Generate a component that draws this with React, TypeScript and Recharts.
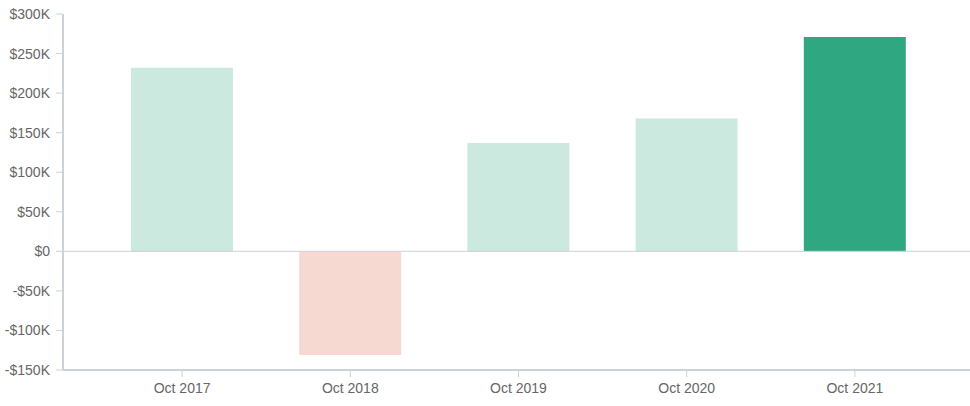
import React from 'react';
import { BarChart, Bar, XAxis, YAxis, ReferenceLine, Cell } from 'recharts';

const periods = ['Oct 2017', 'Oct 2018', 'Oct 2019', 'Oct 2020', 'Oct 2021'];
const amounts = [232000, -131000, 137000, 168000, 271000];
const yTicks = [-150000, -100000, -50000, 0, 50000, 100000, 150000, 200000, 250000, 300000];

const LIGHT_GREEN = '#cbe9df';
const PALE_RED = '#f6d9d1';
const DARK_GREEN = '#2fa882';
const AXIS_COLOR = '#cdd1d8';
const TEXT_COLOR = '#666';

const data = periods.map((period, i) => ({ period, amount: amounts[i] }));

const money = (v: number) => {
    if (v === 0) return '$0';
    const k = Math.abs(v) / 1000;
    return (v < 0 ? '-' : '') + '$' + k + 'K';
};

// negative years in red, latest year highlighted
const barColor = (v: number, i: number) => {
    if (v < 0) return PALE_RED;
    if (i === amounts.length - 1) return DARK_GREEN;
    return LIGHT_GREEN;
};

export default function App() {
    return (
        <div style={{ position: 'absolute', left: 12, top: 0, fontFamily: '"Liberation Sans", Arial, sans-serif' }}>
            {/* let the long y labels run past the svg edge instead of being clipped */}
            <style>{'.recharts-surface { overflow: visible; }'}</style>
            <BarChart
                width={958}
                height={406}
                data={data}
                margin={{ top: 14, right: 0, bottom: 6, left: 0 }}
            >
                <XAxis
                    dataKey="period"
                    padding={{ left: 35, right: 31 }}
                    height={30}
                    stroke={AXIS_COLOR}
                    axisLine={{ stroke: AXIS_COLOR, strokeWidth: 2 }}
                    tickLine={{ stroke: AXIS_COLOR }}
                    tickSize={7}
                    tickMargin={6}
                    tick={{ fill: TEXT_COLOR, fontSize: 14 }}
                />
                <YAxis
                    width={51}
                    domain={[-150000, 300000]}
                    ticks={yTicks}
                    tickFormatter={money}
                    stroke={AXIS_COLOR}
                    axisLine={{ stroke: AXIS_COLOR, strokeWidth: 2 }}
                    tickLine={{ stroke: AXIS_COLOR }}
                    tickSize={7}
                    tickMargin={6}
                    tick={{ fill: TEXT_COLOR, fontSize: 14 }}
                    interval={0}
                />
                <ReferenceLine y={0} stroke={AXIS_COLOR} strokeWidth={1} />
                <Bar dataKey="amount" barSize={102} isAnimationActive={false}>
                    {data.map((d, i) => (
                        <Cell key={d.period} fill={barColor(d.amount, i)} />
                    ))}
                </Bar>
            </BarChart>
        </div>
    );
}
